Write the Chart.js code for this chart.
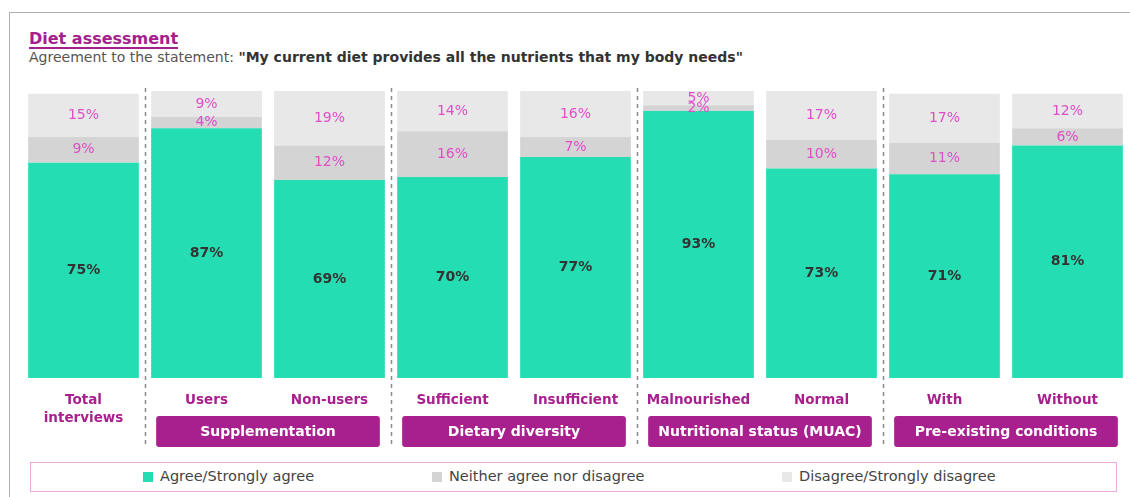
<!DOCTYPE html>
<html>
<head>
<meta charset="utf-8">
<script src="https://cdn.jsdelivr.net/npm/chart.js@4"></script>
<style>
  body { margin: 0; background: #fff; font-family: "DejaVu Sans", sans-serif; }
  #wrap { position: relative; width: 1130px; height: 497px; overflow: hidden; }
  #frame { position: absolute; left: 9px; top: 12px; width: 1140px; height: 500px; border-top: 1px solid #b0b0b0; border-left: 1px solid #b0b0b0; }
  #title { position: absolute; left: 29px; top: 29px; font-size: 16px; font-weight: 700; color: #a3208d; text-decoration: underline; text-underline-offset: 3px; text-decoration-thickness: 1.5px; }
  #subtitle { position: absolute; left: 29px; top: 49px; font-size: 14px; color: #555; }
  #subtitle b { color: #333; }
  #chartBox { position: absolute; left: 0; top: 80px; width: 1130px; height: 380px; }
  #legend { position: absolute; left: 30px; top: 462px; width: 1085px; height: 28px; border: 1.5px solid #f0a8e4; font-size: 14.5px; color: #444; }
  #legend div { position: absolute; top: 5px; white-space: nowrap; }
  #legend span.sw { display: inline-block; width: 10px; height: 10px; margin-right: 7px; vertical-align: -1px; }
</style>
</head>
<body>
<div id="wrap">
  <div id="frame"></div>
  <div id="title">Diet assessment</div>
  <div id="subtitle">Agreement to the statement: <b>"My current diet provides all the nutrients that my body needs"</b></div>
  <div id="chartBox"><canvas id="chart"></canvas></div>
  <div id="legend"></div>
</div>
<script>
const categories = [['Total', 'interviews'], 'Users', 'Non-users', 'Sufficient', 'Insufficient', 'Malnourished', 'Normal', 'With', 'Without'];
const agree = [75, 87, 69, 70, 77, 93, 73, 71, 81];
const neither = [9, 4, 12, 16, 7, 2, 10, 11, 6];
const disagree = [15, 9, 19, 14, 16, 5, 17, 17, 12];
const seriesNames = ['Agree/Strongly agree', 'Neither agree nor disagree', 'Disagree/Strongly disagree'];
const seriesColors = ['#25ddb2', '#d4d4d4', '#e8e8e8'];
// groups: [label, first index, last index]
const groups = [['Supplementation', 1, 2], ['Dietary diversity', 3, 4], ['Nutritional status (MUAC)', 5, 6], ['Pre-existing conditions', 7, 8]];
const separators = [0.5, 2.5, 4.5, 6.5];
const legendLeft = [112, 401, 751];

const legendEl = document.getElementById('legend');
seriesNames.forEach((name, i) => {
    const item = document.createElement('div');
    item.style.left = legendLeft[i] + 'px';
    item.innerHTML = `<span class="sw" style="background:${seriesColors[i]}"></span>${name}`;
    legendEl.appendChild(item);
});

const extrasPlugin = {
    id: 'extras',
    afterDatasetsDraw(chart) {
        const ctx = chart.ctx;
        // value labels
        chart.data.datasets.forEach((ds, di) => {
            const meta = chart.getDatasetMeta(di);
            meta.data.forEach((bar, i) => {
                const cy = (bar.y + bar.base) / 2;
                ctx.save();
                ctx.textAlign = 'center';
                ctx.textBaseline = 'middle';
                if (di === 0) {
                    ctx.font = '700 14px "DejaVu Sans"';
                    ctx.fillStyle = '#333';
                } else {
                    ctx.font = '400 14px "DejaVu Sans"';
                    ctx.fillStyle = '#e14cc8';
                }
                ctx.fillText(ds.data[i] + '%', bar.x, cy);
                ctx.restore();
            });
        });
    },
    afterDraw(chart) {
        const ctx = chart.ctx;
        const x = chart.scales.x;
        const area = chart.chartArea;
        // dashed separators
        ctx.save();
        ctx.strokeStyle = '#8a8a8a';
        ctx.lineWidth = 1.5;
        ctx.setLineDash([4, 4]);
        separators.forEach(s => {
            const px = Math.round((x.getPixelForValue(Math.floor(s)) + x.getPixelForValue(Math.ceil(s))) / 2) + 0.5;
            ctx.beginPath();
            ctx.moveTo(px, area.top - 3);
            ctx.lineTo(px, area.bottom + 70);
            ctx.stroke();
        });
        ctx.restore();
        // group boxes
        const step = x.getPixelForValue(1) - x.getPixelForValue(0);
        groups.forEach(g => {
            const left = x.getPixelForValue(g[1]) - step * 0.45 + 5;
            const right = x.getPixelForValue(g[2]) + step * 0.45 - 5;
            const top = area.bottom + 38;
            ctx.save();
            ctx.fillStyle = '#a8208e';
            ctx.beginPath();
            ctx.roundRect(left, top, right - left, 31, 3);
            ctx.fill();
            ctx.fillStyle = '#fff';
            ctx.font = '700 14px "DejaVu Sans"';
            ctx.textAlign = 'center';
            ctx.textBaseline = 'middle';
            ctx.fillText(g[0], (left + right) / 2, top + 16);
            ctx.restore();
        });
    }
};

new Chart(document.getElementById('chart'), {
    type: 'bar',
    data: {
        labels: categories,
        datasets: [
            { label: seriesNames[0], data: agree, backgroundColor: seriesColors[0] },
            { label: seriesNames[1], data: neither, backgroundColor: seriesColors[1] },
            { label: seriesNames[2], data: disagree, backgroundColor: seriesColors[2] }
        ]
    },
    options: {
        responsive: true,
        maintainAspectRatio: false,
        animation: false,
        categoryPercentage: 0.9,
        barPercentage: 1,
        layout: { padding: { top: 11, left: 22, right: 1, bottom: 19 } },
        plugins: { legend: { display: false }, tooltip: { enabled: false } },
        scales: {
            x: {
                stacked: true,
                grid: { display: false, drawTicks: false },
                border: { display: false },
                ticks: {
                    padding: 14,
                    color: '#a8208e',
                    font: { family: 'DejaVu Sans', size: 13.5, weight: '700', lineHeight: 1.3 },
                    maxRotation: 0
                }
            },
            y: {
                stacked: true,
                display: false,
                min: 0,
                max: 100
            }
        }
    },
    plugins: [extrasPlugin]
});
</script>
</body>
</html>
